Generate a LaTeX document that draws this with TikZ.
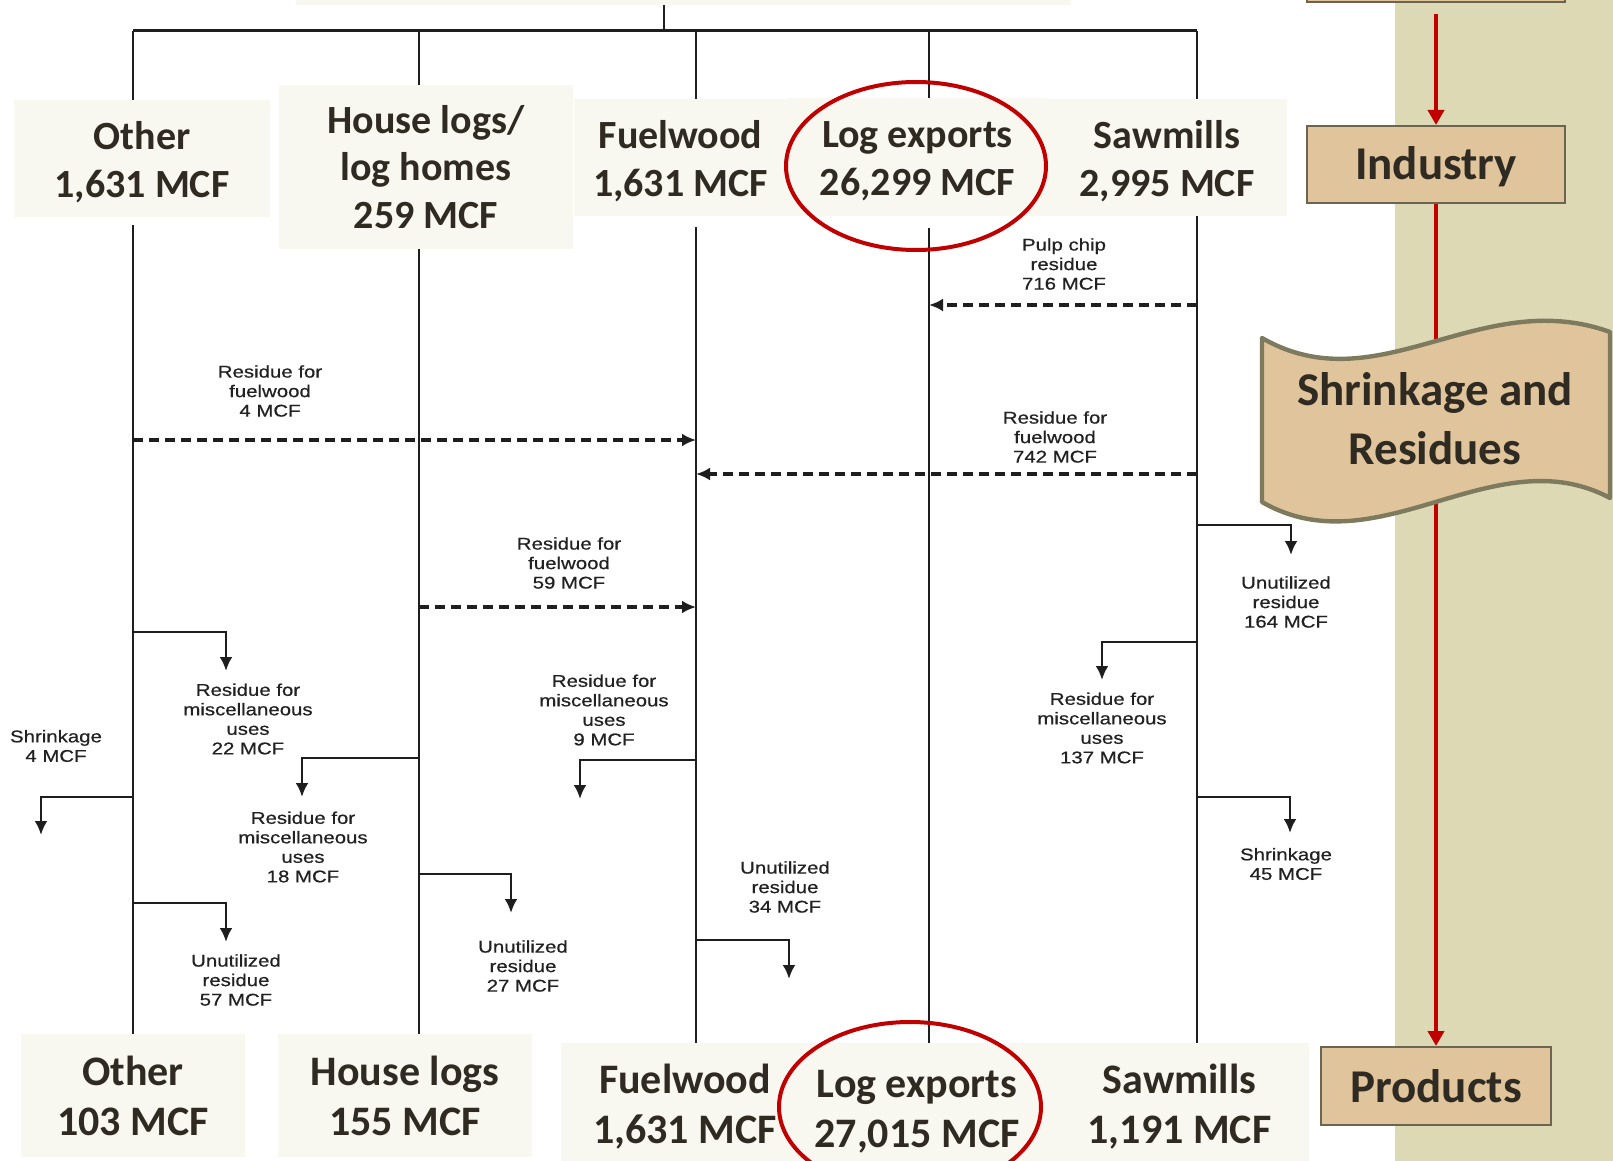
\documentclass[tikz,border=0pt]{standalone}
\usepackage{fontspec}
\setmainfont{Carlito}
\newfontfamily\smallf[FakeStretch=1.2,FakeBold=0.6]{Liberation Sans}
\usetikzlibrary{arrows.meta,calc}
\definecolor{cream}{HTML}{F8F7F0}
\definecolor{beigecol}{HTML}{DED9B5}
\definecolor{tanfill}{HTML}{DFC49C}
\definecolor{boxborder}{HTML}{6B6450}
\definecolor{scrollborder}{HTML}{7D7A5E}
\definecolor{redline}{HTML}{C00000}
\definecolor{darktext}{HTML}{2F2B22}
\definecolor{lineblack}{HTML}{1E1E1E}
\definecolor{smalltext}{HTML}{222222}
\newcommand\tstrut{\rule{0pt}{17.5pt}}
\newcommand\bstrut{\rule{0pt}{18.5pt}}
\tikzset{
  cbox/.style={fill=cream, inner sep=0pt, align=center, text=darktext, font=\bfseries\fontsize{20}{24}\selectfont},
  bbox/.style={cbox, font=\bfseries\fontsize{21}{25}\selectfont},
  tanbox/.style={fill=tanfill, draw=boxborder, line width=1pt, inner sep=0pt, text=darktext, font=\bfseries\fontsize{23.5}{28}\selectfont},
  flow/.style={draw=lineblack, line width=1.35pt},
  barline/.style={draw=lineblack, line width=1.5pt},
  brk/.style={draw=lineblack, line width=1.45pt, -{Latex[length=7pt,width=6.5pt]}},
  dsh/.style={draw=lineblack, line width=1.7pt, dash pattern=on 5pt off 3pt, -{Latex[length=7pt,width=6.5pt]}},
  lbl/.style={align=center, inner sep=0pt, text=smalltext, font=\smallf\fontsize{8.5}{9.75}\selectfont},
  redarrow/.style={draw=redline, line width=2pt, -{Triangle[length=7.5pt,width=8pt]}},
  ring/.style={draw=redline, line width=2pt},
}
\begin{document}
\begin{tikzpicture}[x=0.5pt,y=-0.5pt]
\useasboundingbox (0,0) rectangle (1613,1161);
\clip (0,0) rectangle (1613,1161);
\fill[white] (0,0) rectangle (1613,1161);
\fill[beigecol] (1395,0) rectangle (1613,1161);

% column coordinates on the top bar
\coordinate (cO) at (133,31);
\coordinate (cH) at (419,31);
\coordinate (stem) at (664,31);
\coordinate (cF) at (696,31);
\coordinate (cL) at (929,31);
\coordinate (cS) at (1197,31);

% top boxes
\node[cbox, minimum width=387.5pt, minimum height=22.5pt] (topbox) at (683.5,-17.5) {};
\node[cbox, minimum width=128pt, minimum height=58.5pt] (otherT) at (142,158.5) {\tstrut Other\\1,631 MCF};
\node[cbox, minimum width=147pt, minimum height=82pt, font=\bfseries\fontsize{20}{23.75}\selectfont] (houseT) at (426,167) {House logs/\\log homes\\259 MCF};
\node[cbox, minimum width=106.5pt, minimum height=58.5pt] (fuelT) at (680.5,157.5) {\tstrut Fuelwood\\1,631 MCF};
\node[cbox, minimum width=130.5pt, minimum height=59pt] (logT) at (917.5,157) {\tstrut Log exports\\26,299 MCF};
\node[cbox, minimum width=120pt, minimum height=58.5pt] (sawT) at (1167,157.5) {\tstrut Sawmills\\2,995 MCF};

% bottom boxes
\node[bbox, minimum width=124pt, minimum height=63.5pt] (fuelB) at (685,1106.5) {Fuelwood\\1,631 MCF};
\node[bbox, minimum width=133pt, minimum height=63.5pt] (logB) at (917,1106.5) {\bstrut Log exports\\27,015 MCF};
\node[bbox, minimum width=129.5pt, minimum height=63.5pt] (sawB) at (1179.5,1106.5) {Sawmills\\1,191 MCF};
\node[bbox, minimum width=112pt, minimum height=61.5pt] (otherB) at (133,1095.5) {Other\\103 MCF};
\node[bbox, minimum width=127pt, minimum height=61.5pt] (houseB) at (405,1095.5) {House logs\\155 MCF};

% top bar and stem
\draw[barline] (cO) -- (cS);
\draw[flow] (topbox.south -| stem) -- (stem);

% verticals
\draw[flow] (cO) -- (otherT.north -| cO);
\draw[flow] ([yshift=-4pt]otherT.south -| cO) -- (otherB.north -| cO);
\draw[flow] (cH) -- (houseT.north -| cH);
\draw[flow] (houseT.south -| cH) -- (houseB.north -| cH);
\draw[flow] (cF) -- (fuelT.north -| cF);
\draw[flow] ([yshift=-5.5pt]fuelT.south -| cF) -- (fuelB.north -| cF);
\draw[flow] (cL) -- (logT.north -| cL);
\draw[flow] ([yshift=-6pt]logT.south -| cL) -- (logB.north -| cL);
\draw[flow] (cS) -- (sawT.north -| cS);
\draw[flow] (sawT.south -| cS) -- (sawB.north -| cS);

% dashed residue flows
\draw[dsh] (1197,305) -- (929,305);
\draw[dsh] (133,440) -- (696,440);
\draw[dsh] (1197,474) -- (696,474);
\draw[dsh] (419,607) -- (696,607);

\node[lbl] (lpulp) at (1064,264) {Pulp chip\\residue\\716 MCF};
\node[lbl] (lf4) at (270,391) {Residue for\\fuelwood\\4 MCF};
\node[lbl] (lf742) at (1055,437) {Residue for\\fuelwood\\742 MCF};
\node[lbl] (lf59) at (569,563) {Residue for\\fuelwood\\59 MCF};

% bracket arrows
\draw[brk] (133,632) -| (226,671);
\draw[brk] (133,797) -| (41,835);
\draw[brk] (133,903) -| (226,942);
\draw[brk] (419,758) -| (302,797);
\draw[brk] (419,874) -| (511,913);
\draw[brk] (696,760) -| (580,799);
\draw[brk] (696,940) -| (789,979);
\draw[brk] (1197,525) -| (1291,555);
\draw[brk] (1197,642) -| (1102,680);
\draw[brk] (1197,797) -| (1290,833);

\node[lbl] (lm22) at (248,719) {Residue for\\miscellaneous\\uses\\22 MCF};
\node[lbl] (ls4) at (56,746) {Shrinkage\\4 MCF};
\node[lbl] (lu57) at (236,980) {Unutilized\\residue\\57 MCF};
\node[lbl] (lm18) at (303,847) {Residue for\\miscellaneous\\uses\\18 MCF};
\node[lbl] (lu27) at (523,966) {Unutilized\\residue\\27 MCF};
\node[lbl] (lm9) at (604,710) {Residue for\\miscellaneous\\uses\\9 MCF};
\node[lbl] (lu34) at (785,887) {Unutilized\\residue\\34 MCF};
\node[lbl] (lu164) at (1286,602) {Unutilized\\residue\\164 MCF};
\node[lbl] (lm137) at (1102,728) {Residue for\\miscellaneous\\uses\\137 MCF};
\node[lbl] (ls45) at (1286,864) {Shrinkage\\45 MCF};

% right-hand process column
\node[tanbox, minimum width=129pt, minimum height=21pt] (toprbox) at (1436,-19) {};
\node[tanbox, minimum width=129pt, minimum height=38.5pt] (industry) at (1436,164.5) {\rule{0pt}{19pt}Industry};
\node[tanbox, minimum width=115pt, minimum height=39pt] (products) at (1436,1086) {Products};
\coordinate (topr) at (1436,14);
\draw[redarrow] (topr) -- (industry.north);
\draw[redarrow] (industry.south) -- (products.north);

\path[draw=scrollborder, fill=tanfill, line width=2.2pt, line join=round]
  (1262,338) .. controls (1378,405) and (1480,285) .. (1610,332)
  -- (1610,498) .. controls (1494,436) and (1378,569) .. (1262,502) -- cycle;
\node[align=center, inner sep=0pt, text=darktext, font=\bfseries\fontsize{23.5}{29.5}\selectfont] (shrink) at (1435,419) {Shrinkage and\\Residues};

% highlight rings
\draw[ring] (916,166) ellipse [x radius=130, y radius=84];
\draw[ring] (910,1107) ellipse [x radius=131, y radius=85];
\end{tikzpicture}
\end{document}
